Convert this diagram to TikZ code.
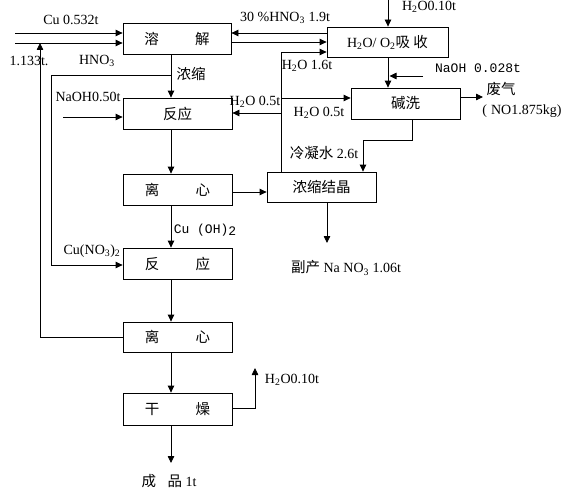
\documentclass[tikz,border=0pt]{standalone}
\usepackage{fontspec}
\setmainfont{Liberation Serif}
\newfontfamily\cjk{Noto Sans CJK SC}
\newfontfamily\monof{Liberation Mono}
\usetikzlibrary{arrows.meta}
\tikzset{
  box/.style={draw, line width=0.8pt, minimum width=109pt, minimum height=31pt, inner sep=0pt, font=\fontsize{14.5}{17}\cjk},
  arr/.style={line width=0.8pt, -{Triangle[length=7pt,width=6.5pt]}},
  ln/.style={line width=0.8pt},
  lbl/.style={inner sep=0pt, font=\fontsize{14}{16}\selectfont},
  lblc/.style={inner sep=0pt, font=\fontsize{14.5}{17}\cjk},
  lblm/.style={inner sep=0pt, font=\fontsize{13}{15}\monof},
}
\begin{document}
\begin{tikzpicture}[x=1pt,y=-1pt]
\useasboundingbox (0,0) rectangle (564,495);
% boxes
\node[box, minimum width=108pt] (rj) at (177,38.5) {溶\hspace{2.5em}解};
\node[box, minimum width=121pt, minimum height=30pt] (xs) at (387.5,42) {\fontsize{14}{16}\selectfont\rmfamily H\textsubscript{2}O/ O\textsubscript{2}\fontsize{14.5}{17}\cjk 吸 收};
\node[box] (fy1) at (177.5,113.5) {反应};
\node[box] (jx) at (405.5,103.5) {碱洗};
\node[box] (lx1) at (177.5,189.5) {离\hspace{2.5em}心};
\node[box, minimum height=30pt] (nj) at (321.5,187) {浓缩结晶};
\node[box] (fy2) at (177.5,263.5) {反\hspace{2.5em}应};
\node[box, minimum height=30pt] (lx2) at (177.5,337) {离\hspace{2.5em}心};
\node[box, minimum height=32pt] (gz) at (177.5,409) {干\hspace{2.5em}燥};
% helper coordinates
\coordinate (mx) at (171,0);
\coordinate (cuS) at (15,33);
\coordinate (hnS) at (15,43);
\coordinate (rec) at (40,43);
\coordinate (br) at (171,75);
\coordinate (brx) at (51,75);
\coordinate (naS) at (63,117);
\coordinate (y33) at (0,33);
\coordinate (y42) at (0,42);
\coordinate (y52) at (0,52);
\coordinate (y98) at (0,98);
\coordinate (y113) at (0,113);
\coordinate (vx) at (281,0);
\coordinate (topw) at (388,0);
\coordinate (naoh2) at (423,76);
\coordinate (gas) at (483,97);
\coordinate (cw1) at (412,140);
\coordinate (cw2) at (363,140);
\coordinate (npx) at (327,243);
\coordinate (dr) at (255,368);
\coordinate (prod) at (171,463);
% connectors
\draw[arr] (cuS) -- (cuS -| rj.west);
\draw[arr] (hnS) -- (hnS -| rj.west);
\draw[arr] (lx2.west) -| (rec);
\draw[arr] (rj.south -| mx) -- (fy1.north -| mx);
\draw[arr] (br) -- (brx) |- (fy2.west |- 0,265);
\draw[arr] (naS) -- (naS -| fy1.west);
\draw[arr] (xs.west |- y33) -- (rj.east |- y33);
\draw[arr] (rj.east |- y42) -- (xs.west |- y42);
\draw[arr] (nj.north -| vx) -- (vx |- y52) -- (xs.west |- y52);
\draw[arr] (vx |- y98) -- (jx.west |- y98);
\draw[arr] (vx |- y113) -- (fy1.east |- y113);
\draw[arr] (topw) -- (xs.north -| topw);
\draw[arr] (xs.south -| topw) -- (jx.north -| topw);
\draw[arr] (naoh2) -- ([xshift=1.5pt]naoh2 -| topw);
\draw[arr] (jx.east |- gas) -- (gas);
\draw[arr] (jx.south -| cw1) -- (cw1) -- (cw2) -- (nj.north -| cw2);
\draw[arr] (fy1.south -| mx) -- (lx1.north -| mx);
\draw[arr] (lx1.east |- 0,192) -- (nj.west |- 0,192);
\draw[arr] (lx1.south -| mx) -- (fy2.north -| mx);
\draw[arr] (nj.south -| npx) -- (npx);
\draw[arr] (fy2.south -| mx) -- (lx2.north -| mx);
\draw[arr] (lx2.south -| mx) -- (gz.north -| mx);
\draw[arr] (gz.east |- 0,408) -| (dr);
\draw[arr] (gz.south -| mx) -- (prod);
% labels
\node[lbl] (l1) at (71,20) {Cu 0.532t};
\node[lbl] (l2) at (29,61) {1.133t.};
\node[lbl] (l3) at (97,61) {HNO\textsubscript{3}};
\node[lblc] (l4) at (191,74) {浓缩};
\node[lbl] (l5) at (88,97) {NaOH0.50t};
\node[lbl] (l6) at (285,18) {30 \%HNO\textsubscript{3} 1.9t};
\node[lbl] (l7) at (429,7) {H\textsubscript{2}O0.10t};
\node[lbl] (l8) at (307,66) {H\textsubscript{2}O 1.6t};
\node[lblm] (l9) at (478,68) {NaOH 0.028t};
\node[lbl] (l10) at (255,102) {H\textsubscript{2}O 0.5t};
\node[lbl] (l11) at (319,113) {H\textsubscript{2}O 0.5t};
\node[lblc] (l12) at (501,89) {废气};
\node[lbl] (l13) at (522,111) {(\hspace{4pt}NO1.875kg)};
\node[lbl] (l14) at (324,153) {{\fontsize{14.5}{17}\cjk 冷凝水} 2.6t};
\node[lblm] (l15) at (205,230) {Cu (OH)\raisebox{-0.35ex}{2}};
\node[lbl] (l16) at (92,251) {Cu(NO\textsubscript{3})\textsubscript{2}};
\node[lbl] (l17) at (346,268) {{\fontsize{14.5}{17}\cjk 副产} Na NO\textsubscript{3} 1.06t};
\node[lbl] (l18) at (292,380) {H\textsubscript{2}O0.10t};
\node[lbl] (l19) at (169,481) {{\fontsize{14.5}{17}\cjk 成\hspace{0.8em}品} 1t};
\end{tikzpicture}
\end{document}
